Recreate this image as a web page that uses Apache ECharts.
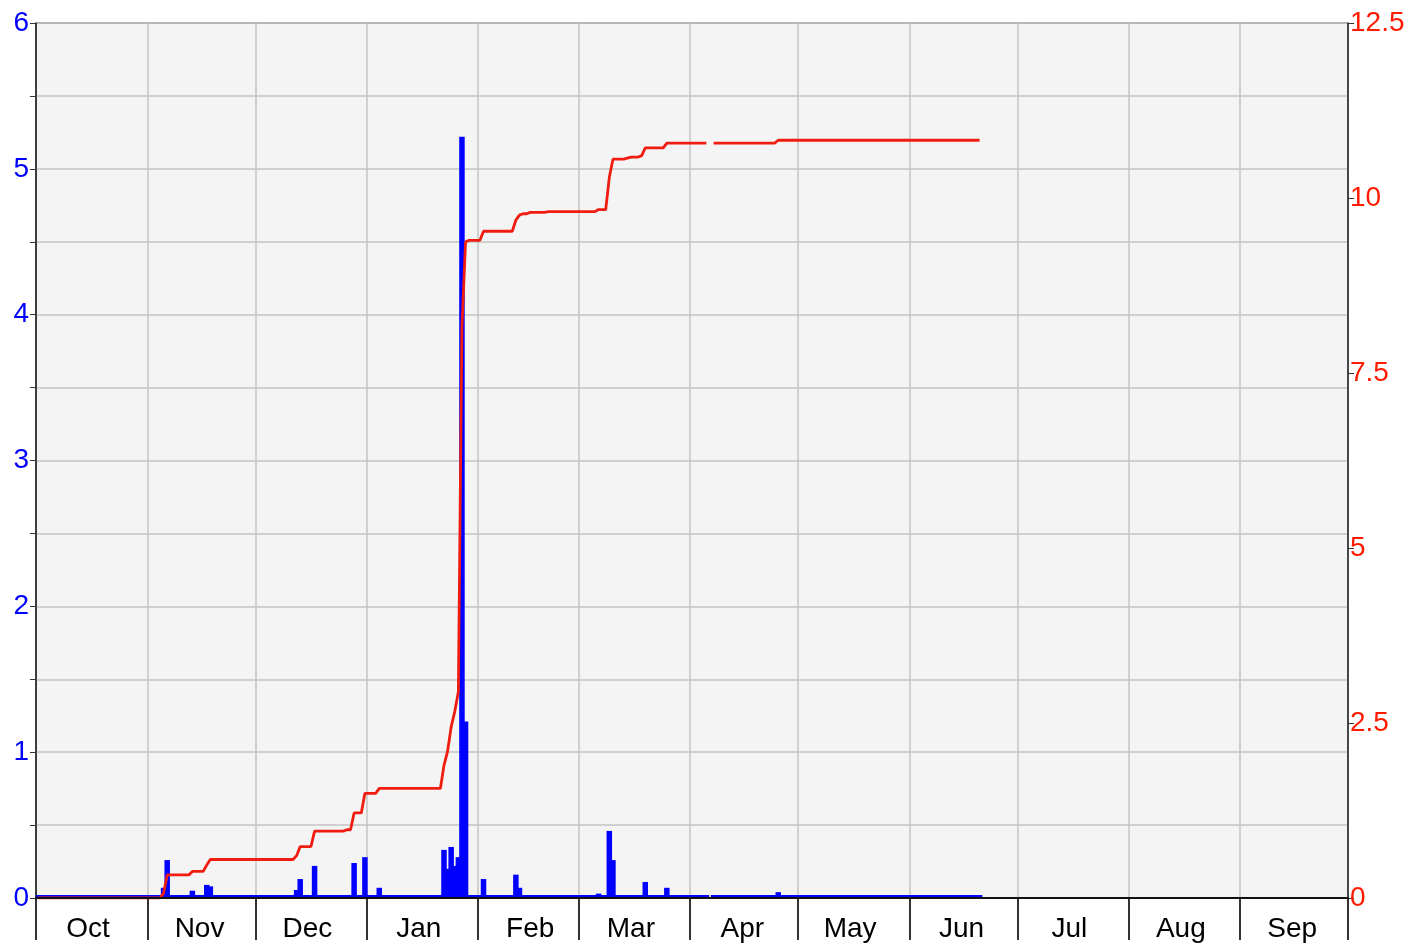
<!DOCTYPE html>
<html>
<head>
<meta charset="utf-8">
<script src="https://cdn.jsdelivr.net/npm/echarts@6/dist/echarts.min.js"></script>
<style>
  html, body { margin: 0; padding: 0; background: #fff; }
  #chart { width: 1425px; height: 944px; }
</style>
</head>
<body>
<div id="chart"></div>
<script>
// water year, daily rain (left axis) + running total (right axis)
const monthNames = ['Jan', 'Feb', 'Mar', 'Apr', 'May', 'Jun', 'Jul', 'Aug', 'Sep', 'Oct', 'Nov', 'Dec']
const startDay = [2022, 9, 1]
const dayCount = 365
const lastRecord = '2023-06-20'
const missingDays = ['2023-04-06']

const rainDates = [
  '2022-11-05', '2022-11-06', '2022-11-13', '2022-11-17', '2022-11-18',
  '2022-12-12', '2022-12-13', '2022-12-17', '2022-12-26', '2022-12-28', '2022-12-31',
  '2023-01-04', '2023-01-22', '2023-01-23', '2023-01-24', '2023-01-25', '2023-01-26',
  '2023-01-27', '2023-01-28', '2023-01-29',
  '2023-02-02', '2023-02-11', '2023-02-12', '2023-02-13', '2023-02-15', '2023-02-20',
  '2023-03-06', '2023-03-09', '2023-03-10', '2023-03-14', '2023-03-15', '2023-03-18',
  '2023-03-19', '2023-03-25',
  '2023-04-25'
]
const rainInches = [
  0.07, 0.26, 0.05, 0.09, 0.08,
  0.055, 0.13, 0.22, 0.02, 0.24, 0.28,
  0.07, 0.33, 0.20, 0.35, 0.22, 0.28,
  5.22, 1.21, 0.02,
  0.13, 0.16, 0.07, 0.02, 0.02, 0.01,
  0.03, 0.46, 0.26, 0.015, 0.015, 0.02,
  0.11, 0.07,
  0.04
]

const leftTicks = { min: 0, max: 6, step: 0.5 }
const rightTicks = { min: 0, max: 12.5, step: 2.5 }

// build day list
const days = []
const t0 = Date.UTC(startDay[0], startDay[1], startDay[2])
for (let i = 0; i < dayCount; i++) {
  days.push(new Date(t0 + i * 86400000).toISOString().slice(0, 10))
}

const daily = days.map(d => {
  if (d > lastRecord || missingDays.includes(d)) return null
  const k = rainDates.indexOf(d)
  return k >= 0 ? rainInches[k] : 0
})

let sum = 0
const total = daily.map(v => {
  if (v === null) return null
  sum += v
  return +sum.toFixed(3)
})

const fontFamily = '"Liberation Sans", Arial, sans-serif'
const isMonthStart = (i, v) => v.slice(8) === '01'

const chart = echarts.init(document.getElementById('chart'), null, { renderer: 'canvas' })
chart.setOption({
  animation: false,
  grid: {
    left: 36,
    right: 77,
    top: 23,
    bottom: 46,
    show: true,
    backgroundColor: '#f4f4f4',
    borderColor: '#222',
    borderWidth: 1
  },
  xAxis: [
    {
      type: 'category',
      data: days,
      boundaryGap: true,
      axisLine: { lineStyle: { color: '#222', width: 1.5 } },
      axisTick: {
        show: true,
        interval: isMonthStart,
        length: 42,
        lineStyle: { color: '#333', width: 2 }
      },
      axisLabel: {
        interval: (i, v) => v.slice(8) === '15',
        formatter: v => monthNames[+v.slice(5, 7) - 1],
        color: '#000',
        fontSize: 28,
        fontFamily,
        margin: 17
      },
      splitLine: {
        show: true,
        interval: (i, v) => isMonthStart(i, v) && i > 0,
        lineStyle: { color: '#c4c4c4', width: 1.5 }
      }
    },
    {
      // top frame line
      type: 'category',
      data: days,
      position: 'top',
      z: 10,
      axisLine: { show: true, lineStyle: { color: '#111', width: 2 } },
      axisTick: { show: false },
      axisLabel: { show: false },
      splitLine: { show: false }
    }
  ],
  yAxis: [
    {
      type: 'value',
      min: leftTicks.min,
      max: leftTicks.max,
      interval: leftTicks.step,
      axisLine: { show: true, lineStyle: { color: '#222', width: 1.5 } },
      axisTick: { show: true, length: 6, lineStyle: { color: '#333' } },
      axisLabel: {
        formatter: v => (Number.isInteger(v) ? String(v) : ''),
        color: '#0000ff',
        fontSize: 28,
        fontFamily,
        margin: 7
      },
      splitLine: { show: true, lineStyle: { color: '#c4c4c4', width: 1.5 } }
    },
    {
      type: 'value',
      min: rightTicks.min,
      max: rightTicks.max,
      interval: rightTicks.step,
      position: 'right',
      axisLine: { show: true, lineStyle: { color: '#222', width: 1.5 } },
      axisTick: { show: true, length: 6, lineStyle: { color: '#333' } },
      axisLabel: {
        color: '#ff1a00',
        fontSize: 28,
        fontFamily,
        margin: 2
      },
      splitLine: { show: false }
    }
  ],
  series: [
    {
      name: 'daily',
      type: 'bar',
      yAxisIndex: 0,
      data: daily,
      barWidth: 5.5,
      barMinHeight: 3,
      itemStyle: { color: '#0000ff' },
      z: 2
    },
    {
      name: 'total',
      type: 'line',
      yAxisIndex: 1,
      data: total,
      symbol: 'none',
      connectNulls: false,
      lineStyle: { color: '#f01c10', width: 2.8 },
      z: 3
    }
  ]
})
</script>
</body>
</html>
